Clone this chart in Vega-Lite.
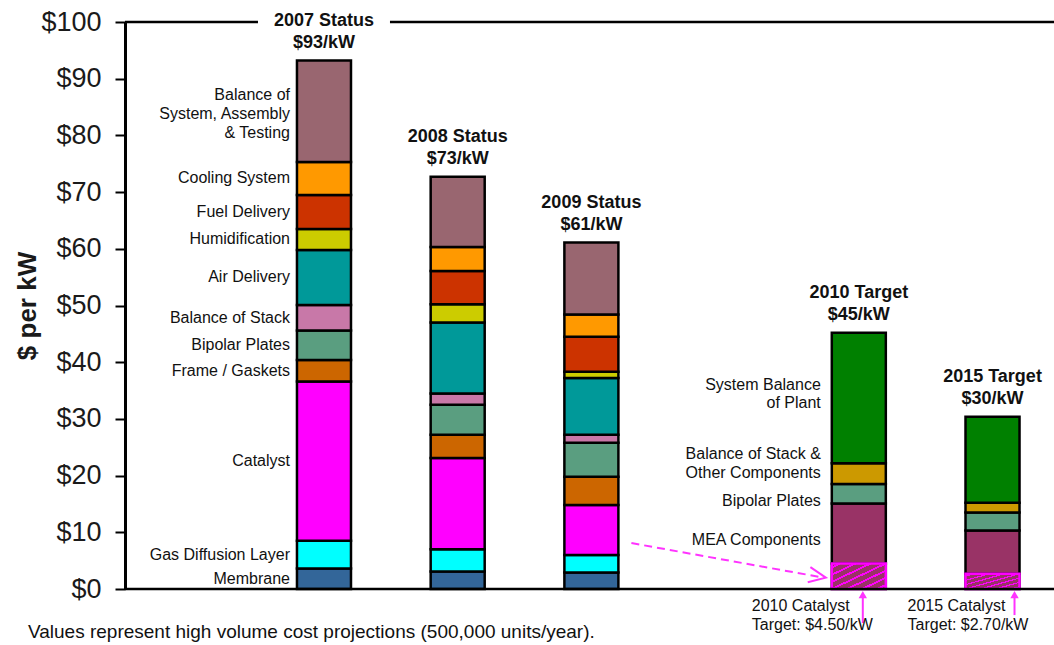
{
  "$schema": "https://vega.github.io/schema/vega-lite/v6.json",
  "width": 929,
  "height": 567,
  "autosize": "none",
  "padding": {"left": 125, "top": 22, "right": 0, "bottom": 56},
  "background": "white",
  "config": {
    "view": {"stroke": null},
    "font": "Liberation Sans",
    "axisY": {"grid": false, "domainColor": "black", "domainWidth": 3, "tickColor": "black", "tickWidth": 2, "tickSize": 10, "labelFontSize": 27, "labelColor": "#1a1a1a", "labelPadding": 14, "titleFontSize": 26, "titleFontWeight": "bold", "titleColor": "#1a1a1a", "titlePadding": 0}
  },
  "datasets": {
    "comp": [
      {"bar": "2007", "comp": "Membrane", "value": 3.6, "label": "Membrane"},
      {"bar": "2007", "comp": "Gas Diffusion Layer", "value": 4.9, "label": "Gas Diffusion Layer"},
      {"bar": "2007", "comp": "Catalyst", "value": 28.1, "label": "Catalyst"},
      {"bar": "2007", "comp": "Frame / Gaskets", "value": 3.8, "label": "Frame / Gaskets"},
      {"bar": "2007", "comp": "Bipolar Plates", "value": 5.2, "label": "Bipolar Plates"},
      {"bar": "2007", "comp": "Balance of Stack", "value": 4.5, "label": "Balance of Stack"},
      {"bar": "2007", "comp": "Air Delivery", "value": 9.7, "label": "Air Delivery"},
      {"bar": "2007", "comp": "Humidification", "value": 3.7, "label": "Humidification"},
      {"bar": "2007", "comp": "Fuel Delivery", "value": 6.0, "label": "Fuel Delivery"},
      {"bar": "2007", "comp": "Cooling System", "value": 5.8, "label": "Cooling System"},
      {"bar": "2007", "comp": "Balance of System, Assembly & Testing", "value": 17.9, "label": "Balance of\nSystem, Assembly\n& Testing"},
      {"bar": "2008", "comp": "Membrane", "value": 3.1},
      {"bar": "2008", "comp": "Gas Diffusion Layer", "value": 3.9},
      {"bar": "2008", "comp": "Catalyst", "value": 16.1},
      {"bar": "2008", "comp": "Frame / Gaskets", "value": 4.1},
      {"bar": "2008", "comp": "Bipolar Plates", "value": 5.3},
      {"bar": "2008", "comp": "Balance of Stack", "value": 2.0},
      {"bar": "2008", "comp": "Air Delivery", "value": 12.5},
      {"bar": "2008", "comp": "Humidification", "value": 3.2},
      {"bar": "2008", "comp": "Fuel Delivery", "value": 5.9},
      {"bar": "2008", "comp": "Cooling System", "value": 4.2},
      {"bar": "2008", "comp": "Balance of System, Assembly & Testing", "value": 12.4},
      {"bar": "2009", "comp": "Membrane", "value": 2.9},
      {"bar": "2009", "comp": "Gas Diffusion Layer", "value": 3.1},
      {"bar": "2009", "comp": "Catalyst", "value": 8.8},
      {"bar": "2009", "comp": "Frame / Gaskets", "value": 5.0},
      {"bar": "2009", "comp": "Bipolar Plates", "value": 6.0},
      {"bar": "2009", "comp": "Balance of Stack", "value": 1.4},
      {"bar": "2009", "comp": "Air Delivery", "value": 10.0},
      {"bar": "2009", "comp": "Humidification", "value": 1.1},
      {"bar": "2009", "comp": "Fuel Delivery", "value": 6.2},
      {"bar": "2009", "comp": "Cooling System", "value": 3.9},
      {"bar": "2009", "comp": "Balance of System, Assembly & Testing", "value": 12.7},
      {"bar": "2010", "comp": "Catalyst Target", "value": 4.5},
      {"bar": "2010", "comp": "MEA Components", "value": 10.6, "label": "MEA Components"},
      {"bar": "2010", "comp": "Bipolar Plates", "value": 3.4, "label": "Bipolar Plates"},
      {"bar": "2010", "comp": "Balance of Stack & Other Components", "value": 3.7, "label": "Balance of Stack &\nOther Components"},
      {"bar": "2010", "comp": "System Balance of Plant", "value": 23.0, "label": "System Balance\nof Plant"},
      {"bar": "2015", "comp": "Catalyst Target", "value": 2.7},
      {"bar": "2015", "comp": "MEA Components", "value": 7.6},
      {"bar": "2015", "comp": "Bipolar Plates", "value": 3.2},
      {"bar": "2015", "comp": "Balance of Stack & Other Components", "value": 1.7},
      {"bar": "2015", "comp": "System Balance of Plant", "value": 15.2}
    ],
    "tops": [
      {"bar": "2007", "total": 93.2, "label": "2007 Status\n$93/kW"},
      {"bar": "2008", "total": 72.7, "label": "2008 Status\n$73/kW"},
      {"bar": "2009", "total": 61.1, "label": "2009 Status\n$61/kW"},
      {"bar": "2010", "total": 45.2, "label": "2010 Target\n$45/kW"},
      {"bar": "2015", "total": 30.4, "label": "2015 Target\n$30/kW"}
    ],
    "arrow": [
      {"from": "2009", "to": "2010", "y0": 8.1, "y1": 2.0}
    ],
    "targets": [
      {"bar": "2010", "label": "2010 Catalyst\nTarget: $4.50/kW"},
      {"bar": "2015", "label": "2015 Catalyst\nTarget: $2.70/kW"}
    ],
    "note": [
      {"bar": "2007", "text": "Values represent high volume cost projections (500,000 units/year)."}
    ]
  },
  "layer": [
    {
      "data": {"name": "comp"},
      "transform": [
        {"window": [{"op": "row_number", "as": "idx"}]},
        {"stack": "value", "groupby": ["bar"], "sort": [{"field": "idx", "order": "ascending"}], "as": ["v0", "v1"]},
        {"calculate": "(datum.v0 + datum.v1) / 2", "as": "mid"}
      ],
      "layer": [
        {
          "mark": {"type": "bar", "stroke": "black", "strokeWidth": 2.5},
          "encoding": {
            "x": {"field": "bar", "type": "nominal", "scale": {"type": "band", "domain": ["2007", "2008", "2009", "gap", "2010", "2015"], "paddingInner": 0.596, "paddingOuter": 0.772, "align": 0.833}, "axis": null},
            "y": {"field": "v0", "type": "quantitative", "scale": {"domain": [0, 100], "nice": false}, "axis": {"values": [0, 10, 20, 30, 40, 50, 60, 70, 80, 90, 100], "format": "$.0f"}, "title": "$ per kW"},
            "y2": {"field": "v1"},
            "color": {
              "field": "comp", "type": "nominal", "legend": null,
              "scale": {
                "domain": ["Membrane", "Gas Diffusion Layer", "Catalyst", "Frame / Gaskets", "Bipolar Plates", "Balance of Stack", "Air Delivery", "Humidification", "Fuel Delivery", "Cooling System", "Balance of System, Assembly & Testing", "Catalyst Target", "MEA Components", "Balance of Stack & Other Components", "System Balance of Plant"],
                "range": ["#336699", "#00FFFF", "#FF00FF", "#CC6600", "#5A9E80", "#C878A8", "#009999", "#CCCC00", "#CC3300", "#FF9900", "#996670", "#C02A9A", "#993366", "#CC9900", "#008000"]
              }
            }
          }
        },
        {
          "transform": [{"filter": "datum.comp === 'Catalyst Target'"}],
          "mark": {
            "type": "bar", "stroke": "#FF00FF", "strokeWidth": 2.5,
            "fill": {"gradient": "linear", "x1": 0, "y1": 0, "x2": 1, "y2": 1, "stops": [
              {"offset": 0, "color": "#993366"}, {"offset": 0.06, "color": "#993366"}, {"offset": 0.06, "color": "#FF00FF"}, {"offset": 0.1, "color": "#FF00FF"},
              {"offset": 0.1, "color": "#993366"}, {"offset": 0.2, "color": "#993366"}, {"offset": 0.2, "color": "#FF00FF"}, {"offset": 0.24, "color": "#FF00FF"},
              {"offset": 0.24, "color": "#993366"}, {"offset": 0.34, "color": "#993366"}, {"offset": 0.34, "color": "#FF00FF"}, {"offset": 0.38, "color": "#FF00FF"},
              {"offset": 0.38, "color": "#993366"}, {"offset": 0.48, "color": "#993366"}, {"offset": 0.48, "color": "#FF00FF"}, {"offset": 0.52, "color": "#FF00FF"},
              {"offset": 0.52, "color": "#993366"}, {"offset": 0.62, "color": "#993366"}, {"offset": 0.62, "color": "#FF00FF"}, {"offset": 0.66, "color": "#FF00FF"},
              {"offset": 0.66, "color": "#993366"}, {"offset": 0.76, "color": "#993366"}, {"offset": 0.76, "color": "#FF00FF"}, {"offset": 0.8, "color": "#FF00FF"},
              {"offset": 0.8, "color": "#993366"}, {"offset": 0.9, "color": "#993366"}, {"offset": 0.9, "color": "#FF00FF"}, {"offset": 0.94, "color": "#FF00FF"},
              {"offset": 0.94, "color": "#993366"}, {"offset": 1, "color": "#993366"}
            ]}
          },
          "encoding": {
            "x": {"field": "bar", "type": "nominal", "scale": {"type": "band", "domain": ["2007", "2008", "2009", "gap", "2010", "2015"], "paddingInner": 0.596, "paddingOuter": 0.772, "align": 0.833}, "axis": null},
            "y": {"field": "v0", "type": "quantitative", "scale": {"domain": [0, 100], "nice": false}, "axis": {"values": [0, 10, 20, 30, 40, 50, 60, 70, 80, 90, 100], "format": "$.0f"}, "title": "$ per kW"},
            "y2": {"field": "v1"}
          }
        },
        {
          "transform": [{"filter": "datum.bar === '2007' && datum.comp !== 'Balance of System, Assembly & Testing'"}],
          "mark": {"type": "text", "align": "right", "baseline": "middle", "dx": -34, "fontSize": 16, "lineHeight": 19, "lineBreak": "\n", "color": "#111111"},
          "encoding": {
            "x": {"field": "bar", "type": "nominal", "scale": {"type": "band", "domain": ["2007", "2008", "2009", "gap", "2010", "2015"], "paddingInner": 0.596, "paddingOuter": 0.772, "align": 0.833}, "axis": null},
            "y": {"field": "mid", "type": "quantitative", "scale": {"domain": [0, 100], "nice": false}, "axis": {"values": [0, 10, 20, 30, 40, 50, 60, 70, 80, 90, 100], "format": "$.0f"}, "title": "$ per kW"},
            "text": {"field": "label", "type": "nominal"}
          }
        },
        {
          "transform": [{"filter": "datum.bar === '2007' && datum.comp === 'Balance of System, Assembly & Testing'"}],
          "mark": {"type": "text", "align": "right", "baseline": "middle", "dx": -34, "dy": -16, "fontSize": 16, "lineHeight": 19, "lineBreak": "\n", "color": "#111111"},
          "encoding": {
            "x": {"field": "bar", "type": "nominal", "scale": {"type": "band", "domain": ["2007", "2008", "2009", "gap", "2010", "2015"], "paddingInner": 0.596, "paddingOuter": 0.772, "align": 0.833}, "axis": null},
            "y": {"field": "mid", "type": "quantitative", "scale": {"domain": [0, 100], "nice": false}, "axis": {"values": [0, 10, 20, 30, 40, 50, 60, 70, 80, 90, 100], "format": "$.0f"}, "title": "$ per kW"},
            "text": {"field": "label", "type": "nominal"}
          }
        },
        {
          "transform": [{"filter": "datum.bar === '2010' && datum.comp === 'System Balance of Plant'"}],
          "mark": {"type": "text", "align": "right", "baseline": "middle", "dx": -38, "dy": -13, "fontSize": 16, "lineHeight": 18, "lineBreak": "\n", "color": "#111111"},
          "encoding": {
            "x": {"field": "bar", "type": "nominal", "scale": {"type": "band", "domain": ["2007", "2008", "2009", "gap", "2010", "2015"], "paddingInner": 0.596, "paddingOuter": 0.772, "align": 0.833}, "axis": null},
            "y": {"field": "mid", "type": "quantitative", "scale": {"domain": [0, 100], "nice": false}, "axis": {"values": [0, 10, 20, 30, 40, 50, 60, 70, 80, 90, 100], "format": "$.0f"}, "title": "$ per kW"},
            "text": {"field": "label", "type": "nominal"}
          }
        },
        {
          "transform": [{"filter": "datum.bar === '2010' && datum.comp === 'Balance of Stack & Other Components'"}],
          "mark": {"type": "text", "align": "right", "baseline": "middle", "dx": -38, "dy": -20, "fontSize": 16, "lineHeight": 19, "lineBreak": "\n", "color": "#111111"},
          "encoding": {
            "x": {"field": "bar", "type": "nominal", "scale": {"type": "band", "domain": ["2007", "2008", "2009", "gap", "2010", "2015"], "paddingInner": 0.596, "paddingOuter": 0.772, "align": 0.833}, "axis": null},
            "y": {"field": "mid", "type": "quantitative", "scale": {"domain": [0, 100], "nice": false}, "axis": {"values": [0, 10, 20, 30, 40, 50, 60, 70, 80, 90, 100], "format": "$.0f"}, "title": "$ per kW"},
            "text": {"field": "label", "type": "nominal"}
          }
        },
        {
          "transform": [{"filter": "datum.bar === '2010' && (datum.comp === 'Bipolar Plates' || datum.comp === 'MEA Components')"}],
          "mark": {"type": "text", "align": "right", "baseline": "middle", "dx": -38, "dy": 7, "fontSize": 16, "lineHeight": 19, "lineBreak": "\n", "color": "#111111"},
          "encoding": {
            "x": {"field": "bar", "type": "nominal", "scale": {"type": "band", "domain": ["2007", "2008", "2009", "gap", "2010", "2015"], "paddingInner": 0.596, "paddingOuter": 0.772, "align": 0.833}, "axis": null},
            "y": {"field": "mid", "type": "quantitative", "scale": {"domain": [0, 100], "nice": false}, "axis": {"values": [0, 10, 20, 30, 40, 50, 60, 70, 80, 90, 100], "format": "$.0f"}, "title": "$ per kW"},
            "text": {"field": "label", "type": "nominal"}
          }
        }
      ]
    },
    {
      "data": {"values": [{"v": 100}, {"v": 0}]},
      "mark": {"type": "rule", "color": "black", "strokeWidth": 2.5},
      "encoding": {
        "y": {"field": "v", "type": "quantitative", "scale": {"domain": [0, 100], "nice": false}, "axis": {"values": [0, 10, 20, 30, 40, 50, 60, 70, 80, 90, 100], "format": "$.0f"}, "title": "$ per kW"}
      }
    },
    {
      "data": {"values": [{"bar": "2007"}]},
      "mark": {"type": "bar", "color": "white", "width": 132},
      "encoding": {
        "x": {"field": "bar", "type": "nominal", "scale": {"type": "band", "domain": ["2007", "2008", "2009", "gap", "2010", "2015"], "paddingInner": 0.596, "paddingOuter": 0.772, "align": 0.833}, "axis": null},
        "y": {"datum": 96.5, "type": "quantitative", "scale": {"domain": [0, 100], "nice": false}, "axis": {"values": [0, 10, 20, 30, 40, 50, 60, 70, 80, 90, 100], "format": "$.0f"}, "title": "$ per kW"},
        "y2": {"datum": 101.5}
      }
    },
    {
      "data": {"name": "tops"},
      "mark": {"type": "text", "fontWeight": "bold", "fontSize": 18, "lineHeight": 22, "baseline": "middle", "dy": -40, "lineBreak": "\n", "color": "#111111"},
      "encoding": {
        "x": {"field": "bar", "type": "nominal", "scale": {"type": "band", "domain": ["2007", "2008", "2009", "gap", "2010", "2015"], "paddingInner": 0.596, "paddingOuter": 0.772, "align": 0.833}, "axis": null},
        "y": {"field": "total", "type": "quantitative", "scale": {"domain": [0, 100], "nice": false}, "axis": {"values": [0, 10, 20, 30, 40, 50, 60, 70, 80, 90, 100], "format": "$.0f"}, "title": "$ per kW"},
        "text": {"field": "label", "type": "nominal"}
      }
    },
    {
      "data": {"name": "arrow"},
      "mark": {"type": "rule", "color": "#FF33FF", "strokeWidth": 2, "strokeDash": [8, 5], "xOffset": 40, "x2Offset": -35},
      "encoding": {
        "x": {"field": "from", "type": "nominal", "scale": {"type": "band", "domain": ["2007", "2008", "2009", "gap", "2010", "2015"], "paddingInner": 0.596, "paddingOuter": 0.772, "align": 0.833}, "axis": null},
        "x2": {"field": "to"},
        "y": {"field": "y0", "type": "quantitative", "scale": {"domain": [0, 100], "nice": false}, "axis": {"values": [0, 10, 20, 30, 40, 50, 60, 70, 80, 90, 100], "format": "$.0f"}, "title": "$ per kW"},
        "y2": {"field": "y1"}
      }
    },
    {
      "data": {"name": "arrow"},
      "mark": {"type": "point", "shape": "M -2 -0.9 L 0 0 L -2 0.9", "size": 289, "filled": false, "stroke": "#FF33FF", "strokeWidth": 2, "opacity": 1, "angle": 10, "xOffset": -33},
      "encoding": {
        "x": {"field": "to", "type": "nominal", "scale": {"type": "band", "domain": ["2007", "2008", "2009", "gap", "2010", "2015"], "paddingInner": 0.596, "paddingOuter": 0.772, "align": 0.833}, "axis": null},
        "y": {"field": "y1", "type": "quantitative", "scale": {"domain": [0, 100], "nice": false}, "axis": {"values": [0, 10, 20, 30, 40, 50, 60, 70, 80, 90, 100], "format": "$.0f"}, "title": "$ per kW"}
      }
    },
    {
      "data": {"name": "targets"},
      "transform": [{"filter": "datum.bar === '2010'"}],
      "layer": [
        {
          "mark": {"type": "rule", "color": "#FF33FF", "strokeWidth": 2, "xOffset": 4},
          "encoding": {
            "x": {"field": "bar", "type": "nominal", "scale": {"type": "band", "domain": ["2007", "2008", "2009", "gap", "2010", "2015"], "paddingInner": 0.596, "paddingOuter": 0.772, "align": 0.833}, "axis": null},
            "y": {"datum": -6.0, "type": "quantitative", "scale": {"domain": [0, 100], "nice": false}, "axis": {"values": [0, 10, 20, 30, 40, 50, 60, 70, 80, 90, 100], "format": "$.0f"}, "title": "$ per kW"},
            "y2": {"datum": -1.0}
          }
        },
        {
          "mark": {"type": "point", "shape": "triangle-up", "size": 70, "filled": true, "color": "#FF33FF", "opacity": 1, "xOffset": 4},
          "encoding": {
            "x": {"field": "bar", "type": "nominal", "scale": {"type": "band", "domain": ["2007", "2008", "2009", "gap", "2010", "2015"], "paddingInner": 0.596, "paddingOuter": 0.772, "align": 0.833}, "axis": null},
            "y": {"datum": -1.0, "type": "quantitative", "scale": {"domain": [0, 100], "nice": false}, "axis": {"values": [0, 10, 20, 30, 40, 50, 60, 70, 80, 90, 100], "format": "$.0f"}, "title": "$ per kW"}
          }
        },
        {
          "mark": {"type": "text", "align": "left", "baseline": "middle", "dx": -107, "fontSize": 16, "lineHeight": 19, "lineBreak": "\n", "color": "#111111"},
          "encoding": {
            "x": {"field": "bar", "type": "nominal", "scale": {"type": "band", "domain": ["2007", "2008", "2009", "gap", "2010", "2015"], "paddingInner": 0.596, "paddingOuter": 0.772, "align": 0.833}, "axis": null},
            "y": {"datum": -3.0, "type": "quantitative", "scale": {"domain": [0, 100], "nice": false}, "axis": {"values": [0, 10, 20, 30, 40, 50, 60, 70, 80, 90, 100], "format": "$.0f"}, "title": "$ per kW"},
            "text": {"field": "label", "type": "nominal"}
          }
        }
      ]
    },
    {
      "data": {"name": "targets"},
      "transform": [{"filter": "datum.bar === '2015'"}],
      "layer": [
        {
          "mark": {"type": "rule", "color": "#FF33FF", "strokeWidth": 2, "xOffset": 22},
          "encoding": {
            "x": {"field": "bar", "type": "nominal", "scale": {"type": "band", "domain": ["2007", "2008", "2009", "gap", "2010", "2015"], "paddingInner": 0.596, "paddingOuter": 0.772, "align": 0.833}, "axis": null},
            "y": {"datum": -4.6, "type": "quantitative", "scale": {"domain": [0, 100], "nice": false}, "axis": {"values": [0, 10, 20, 30, 40, 50, 60, 70, 80, 90, 100], "format": "$.0f"}, "title": "$ per kW"},
            "y2": {"datum": -1.0}
          }
        },
        {
          "mark": {"type": "point", "shape": "triangle-up", "size": 70, "filled": true, "color": "#FF33FF", "opacity": 1, "xOffset": 22},
          "encoding": {
            "x": {"field": "bar", "type": "nominal", "scale": {"type": "band", "domain": ["2007", "2008", "2009", "gap", "2010", "2015"], "paddingInner": 0.596, "paddingOuter": 0.772, "align": 0.833}, "axis": null},
            "y": {"datum": -1.0, "type": "quantitative", "scale": {"domain": [0, 100], "nice": false}, "axis": {"values": [0, 10, 20, 30, 40, 50, 60, 70, 80, 90, 100], "format": "$.0f"}, "title": "$ per kW"}
          }
        },
        {
          "mark": {"type": "text", "align": "left", "baseline": "middle", "dx": -85, "fontSize": 16, "lineHeight": 19, "lineBreak": "\n", "color": "#111111"},
          "encoding": {
            "x": {"field": "bar", "type": "nominal", "scale": {"type": "band", "domain": ["2007", "2008", "2009", "gap", "2010", "2015"], "paddingInner": 0.596, "paddingOuter": 0.772, "align": 0.833}, "axis": null},
            "y": {"datum": -3.0, "type": "quantitative", "scale": {"domain": [0, 100], "nice": false}, "axis": {"values": [0, 10, 20, 30, 40, 50, 60, 70, 80, 90, 100], "format": "$.0f"}, "title": "$ per kW"},
            "text": {"field": "label", "type": "nominal"}
          }
        }
      ]
    },
    {
      "data": {"name": "note"},
      "mark": {"type": "text", "align": "left", "baseline": "middle", "dx": -296, "fontSize": 19, "color": "#111111"},
      "encoding": {
        "x": {"field": "bar", "type": "nominal", "scale": {"type": "band", "domain": ["2007", "2008", "2009", "gap", "2010", "2015"], "paddingInner": 0.596, "paddingOuter": 0.772, "align": 0.833}, "axis": null},
        "y": {"datum": -7.6, "type": "quantitative", "scale": {"domain": [0, 100], "nice": false}, "axis": {"values": [0, 10, 20, 30, 40, 50, 60, 70, 80, 90, 100], "format": "$.0f"}, "title": "$ per kW"},
        "text": {"field": "text", "type": "nominal"}
      }
    }
  ]
}
